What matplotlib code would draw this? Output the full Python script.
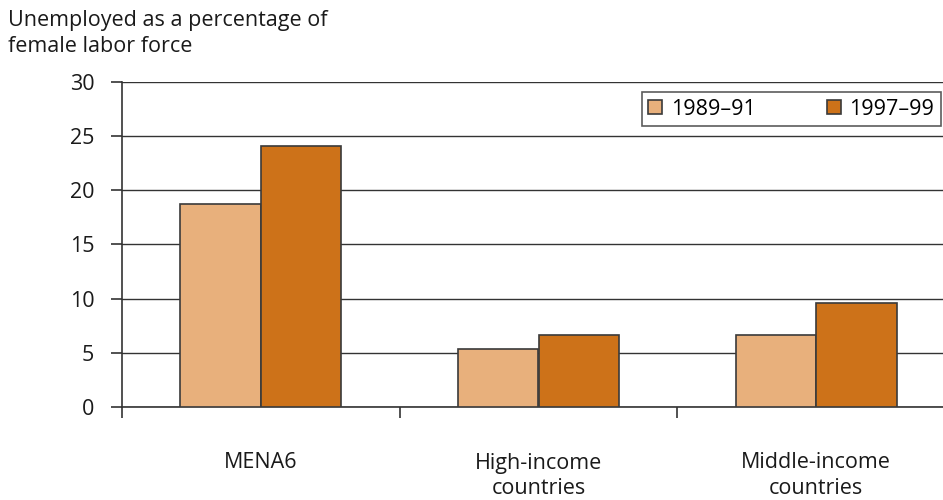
import numpy as np
import matplotlib
matplotlib.use("Agg")
import matplotlib.pyplot as plt

# data
categories = ["MENA6", "High-income\ncountries", "Middle-income\ncountries"]
series_names = ["1989\u201391", "1997\u201399"]
vals_1989 = [18.7, 5.35, 6.65]
vals_1997 = [24.1, 6.65, 9.6]
yticks = [0, 5, 10, 15, 20, 25, 30]

colors = ["#E8B07C", "#CD7219"]

plt.rcParams["font.family"] = ["Open Sans", "DejaVu Sans"]
FS = 15.5

fig = plt.figure(figsize=(9.43, 5.0), dpi=100)
ax = fig.add_axes([122 / 943, 93 / 500, 833 / 943, 325 / 500])

x = np.arange(len(categories))
w = 0.29
ax.bar(x - w / 2, vals_1989, w, color=colors[0], edgecolor="#3a3a3a",
       linewidth=1.2, label=series_names[0], zorder=3)
ax.bar(x + w / 2, vals_1997, w, color=colors[1], edgecolor="#3a3a3a",
       linewidth=1.2, label=series_names[1], zorder=3)

ax.set_xlim(-0.5, 2.5)
ax.set_ylim(0, 30)
ax.set_yticks(yticks)
ax.yaxis.grid(True, color="#333333", linewidth=1.0, zorder=0)
ax.set_axisbelow(True)

for s in ["top", "right"]:
    ax.spines[s].set_visible(False)
ax.spines["left"].set_color("#333333")
ax.spines["bottom"].set_color("#333333")
ax.spines["left"].set_linewidth(1.2)
ax.spines["bottom"].set_linewidth(1.2)

# category ticks at the boundaries, labels centred under groups
ax.set_xticks([-0.5, 0.5, 1.5, 2.5])
ax.set_xticklabels([])
ax.tick_params(axis="x", length=8, width=1.2, color="#333333", direction="out")
ax.tick_params(axis="y", length=8, width=1.2, color="#333333", labelsize=FS, pad=12)
for xi, lab in zip(x, categories):
    ax.text(xi, -4.2, lab, ha="center", va="top", fontsize=FS,
            color="#1a1a1a", linespacing=1.25)
for t in ax.get_yticklabels():
    t.set_color("#1a1a1a")

fig.text(8 / 943, 1 - 10 / 500, "Unemployed as a percentage of\nfemale labor force",
         ha="left", va="top", fontsize=FS, color="#1a1a1a", linespacing=1.3)

leg = ax.legend(loc="upper left", bbox_to_anchor=((642 - 122) / 833, 0.968),
                ncol=2, frameon=True, fancybox=False, fontsize=FS,
                handlelength=0.65, handleheight=0.65, columnspacing=3.3,
                handletextpad=0.4, borderpad=0.3, borderaxespad=0)
leg.get_frame().set_edgecolor("#333333")
leg.get_frame().set_linewidth(1.2)

fig.savefig("out.png", dpi=100)
